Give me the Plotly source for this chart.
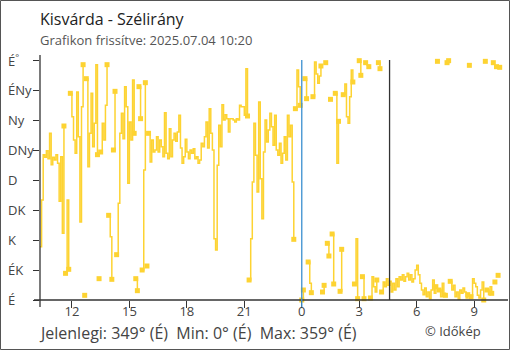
import pandas as pd
import plotly.graph_objects as go

# --- data -------------------------------------------------------------
station = "Kisvárda"
updated = "2025.07.04 10:20"
series_start = "2025-07-03 10:20"
step = "5min"

# wind direction in degrees, one reading every 5 minutes (one row = one hour)
direction_deg = [
    80, 150, 218, 214, 224, 212, 250, 203, 214, 210, 218, 205,      # 10:20
    148, 215, 100, 261, 40, 150, 46, 310, 275, 240, 220, 312,       # 11:20
    245, 117, 290, 353, 7, 332, 200, 250, 310, 230, 265, 353,       # 12:20
    218, 32, 222, 265, 240, 292, 353, 127, 95, 31, 225, 313,        # 13:20
    68, 145, 250, 280, 242, 320, 290, 175, 267, 240, 330, 250,      # 14:20
    32, 14, 320, 272, 45, 195, 326, 51, 250, 207, 240, 222,         # 15:20
    225, 245, 222, 240, 230, 215, 281, 220, 212, 257, 215, 240,     # 16:20
    250, 238, 252, 277, 228, 205, 215, 241, 222, 212, 225, 220,     # 17:20
    227, 212, 215, 205, 210, 235, 230, 245, 267, 228, 287, 250,     # 18:20
    225, 92, 75, 202, 262, 230, 293, 270, 278, 272, 252, 272,       # 19:20
    272, 270, 267, 272, 270, 292, 290, 290, 277, 347, 276, 30,      # 20:20
    92, 177, 265, 217, 162, 297, 182, 122, 222, 270, 237, 255,      # 21:20
    280, 260, 232, 277, 225, 217, 235, 205, 220, 245, 210, 277,     # 22:20
    245, 262, 177, 91, 287, 345, 320, 292, 0, 15, 332, 302,         # 23:20
    57, 25, 11, 305, 357, 339, 325, 336, 351, 12, 22, 356,          # 00:20
    85, 66, 301, 99, 24, 310, 205, 268, 13, 76, 308, 324,           # 01:20
    275, 265, 305, 345, 327, 24, 92, 2, 359, 337, 35, 2,            # 02:20
    356, 352, 350, 3, 35, 20, 12, 30, 356, 347, 12, 27,             # 03:20
    20, 32, 22, 28, 12, 25, 15, 32, 20, 35, 30, 38,                 # 04:20
    28, 35, 40, 30, 38, 27, 32, 45, 52, 38, 25, 15,                 # 05:20
    8, 18, 5, 12, 2, 15, 30, 10, 20, 358, 15, 5,                    # 06:20
    25, 10, 7, 356, 359, 28, 15, 22, 5, 12, 0, 15,                  # 07:20
    10, 18, 12, 3, 8, 352, 5, 32, 25, 20, 7, 3,                     # 08:20
    15, 27, 0, 358, 15, 8, 20, 10, 356, 27, 350, 37,                # 09:20
    349,                                                            # 10:20
]

compass_deg = [0, 45, 90, 135, 180, 225, 270, 315, 360]
compass_names = ["É", "ÉK", "K", "DK", "D", "DNy", "Ny", "ÉNy", "É<sup>°</sup>"]

hour_ticks = ["2025-07-03 12:00", "2025-07-03 15:00", "2025-07-03 18:00",
              "2025-07-03 21:00", "2025-07-04 00:00", "2025-07-04 03:00",
              "2025-07-04 06:00", "2025-07-04 09:00"]
hour_labels = ["12", "15", "18", "21", "0", "3", "6", "9"]
x_range = ["2025-07-03 10:20", "2025-07-04 10:46"]
midnight = "2025-07-04 00:00"
sunrise = "2025-07-04 04:35"

# --- styling ----------------------------------------------------------
GOLD = "#FDD332"
AXIS = "#333333"
TEXT = "#444444"
FONT = "Open Sans"

W, H = 510, 350
L, R, T, B = 40, 2, 55, 50
plot_h = H - T - B
plot_w = W - L - R


def py(px):
    """pixel row -> paper y"""
    return (H - B - px) / plot_h


def pxx(px):
    """pixel column -> paper x"""
    return (px - L) / plot_w


def compass(deg):
    return compass_names[int(round(deg / 45.0)) % 8]


# --- split the line where the direction wraps through north -------------
times = pd.date_range(series_start, periods=len(direction_deg), freq=step)
line_x, line_y = [], []
edge = set()
for i, (t, d) in enumerate(zip(times, direction_deg)):
    if i > 0 and abs(d - direction_deg[i - 1]) > 180:
        line_x.append(t)
        line_y.append(None)
        edge.update({i - 1, i})
    line_x.append(t)
    line_y.append(d)
edge = sorted(edge)

fig = go.Figure()
fig.add_trace(go.Scatter(
    x=line_x, y=line_y, mode="lines",
    line=dict(color=GOLD, width=1.5, shape="hv"),
    connectgaps=False, hoverinfo="skip", showlegend=False,
))
fig.add_trace(go.Scatter(
    x=[times[i] for i in edge], y=[direction_deg[i] for i in edge],
    mode="markers", marker=dict(symbol="square", size=5, color=GOLD),
    showlegend=False, cliponaxis=False,
))

# 360° sits on the pixel row 60, the axis runs a little higher
y_range = [0, 360 * plot_h / (H - B - 60)]

fig.update_layout(
    width=W, height=H,
    margin=dict(l=L, r=R, t=T, b=B),
    paper_bgcolor="white", plot_bgcolor="white",
    font=dict(family=FONT, color=TEXT, size=13),
    xaxis=dict(
        type="date", range=x_range, tickmode="array",
        tickvals=hour_ticks, ticktext=hour_labels,
        ticks="outside", ticklen=7, tickwidth=1.3, tickcolor=AXIS,
        ticklabelstandoff=-8,
        showgrid=False, zeroline=False, showline=False,
        tickfont=dict(size=13, color=TEXT),
    ),
    xaxis2=dict(
        type="date", range=x_range, overlaying="x", anchor="y", side="bottom",
        tickmode="array", tickvals=hour_ticks, showticklabels=False,
        ticks="inside", ticklen=6, tickwidth=1.3, tickcolor=AXIS,
        showgrid=False, zeroline=False, showline=False,
    ),
    yaxis=dict(
        range=y_range, tickmode="array", tickvals=compass_deg,
        showticklabels=False, ticks="outside", ticklen=6, tickwidth=1.3,
        tickcolor=AXIS, showgrid=False, zeroline=False, showline=False,
    ),
    yaxis2=dict(
        range=y_range, overlaying="y", anchor="x", side="left",
        tickmode="array", tickvals=compass_deg, showticklabels=False,
        ticks="inside", ticklen=7, tickwidth=1.3, tickcolor=AXIS,
        showgrid=False, zeroline=False, showline=False,
    ),
)

shapes = [
    # axis lines, running slightly past the origin
    dict(type="line", xref="paper", yref="paper", x0=pxx(34), x1=1, y0=0, y1=0,
         line=dict(color=AXIS, width=1.3)),
    dict(type="line", xref="paper", yref="paper", x0=0, x1=0, y0=py(307), y1=1,
         line=dict(color=AXIS, width=1.3)),
    # day change and sunrise markers
    dict(type="line", xref="x", yref="paper", x0=midnight, x1=midnight,
         y0=py(307), y1=py(60), line=dict(color="#3B8FD0", width=1.3)),
    dict(type="line", xref="x", yref="paper", x0=sunrise, x1=sunrise,
         y0=0, y1=py(60), line=dict(color=AXIS, width=1.3)),
    # outer frame
    dict(type="rect", xref="paper", yref="paper",
         x0=pxx(0.5), x1=pxx(W - 0.5), y0=py(H - 0.5), y1=py(0.5),
         line=dict(color="#555555", width=1)),
]
fig.update_layout(shapes=shapes)

annotations = []
for deg, name in zip(compass_deg, compass_names):
    annotations.append(dict(
        x=pxx(6), xref="paper", y=deg, yref="y", xanchor="left", yanchor="middle",
        text=name, showarrow=False, font=dict(size=13, color=TEXT),
    ))

annotations += [
    dict(x=pxx(38), y=py(19), xref="paper", yref="paper", xanchor="left",
         yanchor="middle", showarrow=False,
         text=f"{station} - Szélirány", font=dict(size=16, color="#222222")),
    dict(x=pxx(38), y=py(40), xref="paper", yref="paper", xanchor="left",
         yanchor="middle", showarrow=False,
         text=f"Grafikon frissítve: {updated}", font=dict(size=13, color="#555555")),
    dict(x=pxx(37), y=py(333), xref="paper", yref="paper", xanchor="left",
         yanchor="middle", showarrow=False,
         text=(f"Jelenlegi: {direction_deg[-1]}° ({compass(direction_deg[-1])})\u00a0\u00a0"
               f"Min: {min(direction_deg)}° ({compass(min(direction_deg))})\u00a0\u00a0"
               f"Max: {max(direction_deg)}° ({compass(max(direction_deg))})"),
         font=dict(size=16, color=TEXT)),
    dict(x=pxx(423), y=py(331), xref="paper", yref="paper", xanchor="left",
         yanchor="middle", showarrow=False,
         text="© Időkép", font=dict(size=13, color=TEXT)),
]
fig.update_layout(annotations=annotations)

fig.write_html("out.html")
